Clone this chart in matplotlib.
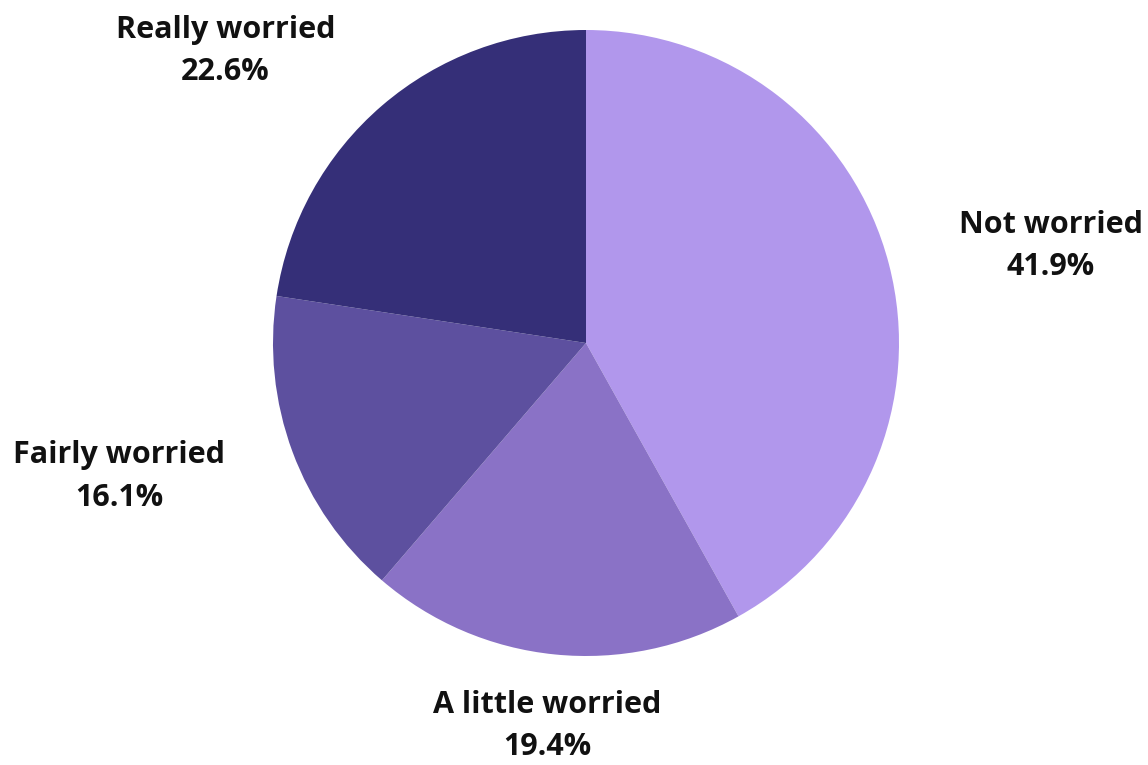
import matplotlib
matplotlib.use("Agg")
import matplotlib.pyplot as plt
import numpy as np

categories = ["Not worried", "A little worried", "Fairly worried", "Really worried"]
values = [41.9, 19.4, 16.1, 22.6]
colors = ["#B197EC", "#8A72C6", "#5D509F", "#352F78"]

fig = plt.figure(figsize=(11.48, 7.65), dpi=100)
ax = fig.add_axes([(586 - 313) / 1148, (765 - 343 - 313) / 765, 626 / 1148, 626 / 765])

wedges, texts = ax.pie(values, colors=colors, startangle=90, counterclock=False,
                       labels=[f"{c}\n{v:.1f}%" for c, v in zip(categories, values)],
                       labeldistance=1.23, radius=1.0)
for t in texts:
    t.set_fontfamily("Open Sans")
    t.set_fontweight("bold")
    t.set_fontsize(22)
    t.set_color("#111111")
    t.set_multialignment("center")
    t.set_linespacing(1.55)
    t.set_va("center")
    x, y = t.get_position()
    if abs(x) < 0.3:
        t.set_ha("center")
ax.set_xlim(-1, 1)
ax.set_ylim(-1, 1)
ax.set_aspect("equal")
fig.savefig("out.png", dpi=100)
